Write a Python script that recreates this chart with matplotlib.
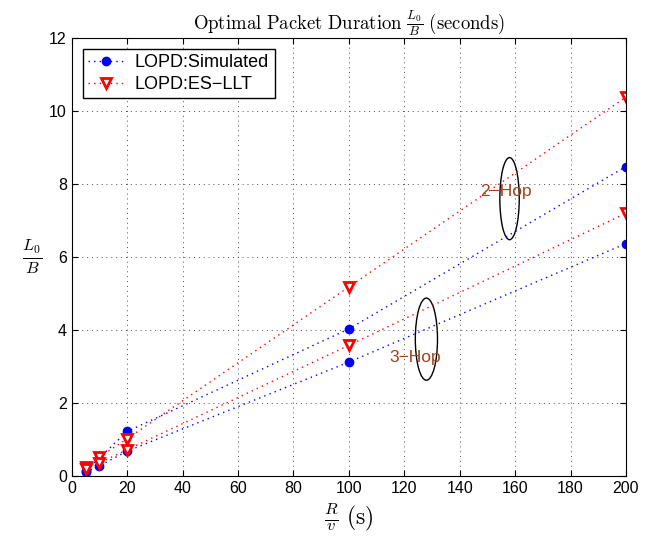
import matplotlib
matplotlib.use("Agg")
import matplotlib.pyplot as plt
from matplotlib.patches import Ellipse

plt.rcParams['font.family'] = ['Liberation Sans', 'DejaVu Sans']
plt.rcParams['mathtext.fontset'] = 'cm'

# donnees
x = [5, 10, 20, 100, 200]
sim_2hop = [0.15, 0.50, 1.22, 4.03, 8.48]
llt_2hop = [0.25, 0.52, 1.02, 5.18, 10.38]
sim_3hop = [0.10, 0.28, 0.68, 3.12, 6.37]
llt_3hop = [0.20, 0.36, 0.72, 3.58, 7.20]

fig = plt.figure(figsize=(6.52, 5.4), dpi=100)
ax = fig.add_axes([0.110, 0.1185, 0.850, 0.811])

dots = (0, (1, 3))
ax.plot(x, sim_2hop, color='b', ls=dots, lw=1, marker='o', ms=6, label='LOPD:Simulated')
ax.plot(x, llt_2hop, color='r', ls=dots, lw=1, marker='v', ms=7, mfc='white', mec='r', mew=2, label='LOPD:ES\u2212LLT')
ax.plot(x, sim_3hop, color='b', ls=dots, lw=1, marker='o', ms=6)
ax.plot(x, llt_3hop, color='r', ls=dots, lw=1, marker='v', ms=7, mfc='white', mec='r', mew=2)

# ellipses + annotations
ax.add_patch(Ellipse((158, 7.6), 7, 2.25, fill=False, ec='k', lw=1))
ax.add_patch(Ellipse((128, 3.75), 8, 2.25, fill=False, ec='k', lw=1))
ax.text(147.5, 7.8, '2\u2212Hop', color='#A0401A', fontsize=12.5, va='center')
ax.text(114.5, 3.25, '3\u2212Hop', color='#A0401A', fontsize=12.5, va='center')

ax.set_xlim(0, 200)
ax.set_ylim(0, 12)
ax.set_xticks(range(0, 201, 20))
ax.set_yticks(range(0, 13, 2))
ax.tick_params(direction='in', top=True, right=True, labelsize=11.5, length=4)
ax.grid(True, ls=(0, (1, 4)), color='0.3', lw=0.7)

ax.set_title(r'$\mathrm{Optimal\ Packet\ Duration}\ \frac{L_0}{B}\ \mathrm{(seconds)}$', fontsize=13.5)
ax.set_xlabel(r'$\frac{R}{v}\ \mathrm{(s)}$', fontsize=17)
ax.set_ylabel(r'$\frac{L_0}{B}$', fontsize=17, rotation=0, labelpad=12, va='center')

leg = ax.legend(loc='upper left', fontsize=13, fancybox=False, framealpha=1, edgecolor='k',
                borderaxespad=0.6, handlelength=2.0, labelspacing=0.25, borderpad=0.3,
                handletextpad=0.6)
leg.get_frame().set_linewidth(1)

fig.savefig('out.png', dpi=100)
